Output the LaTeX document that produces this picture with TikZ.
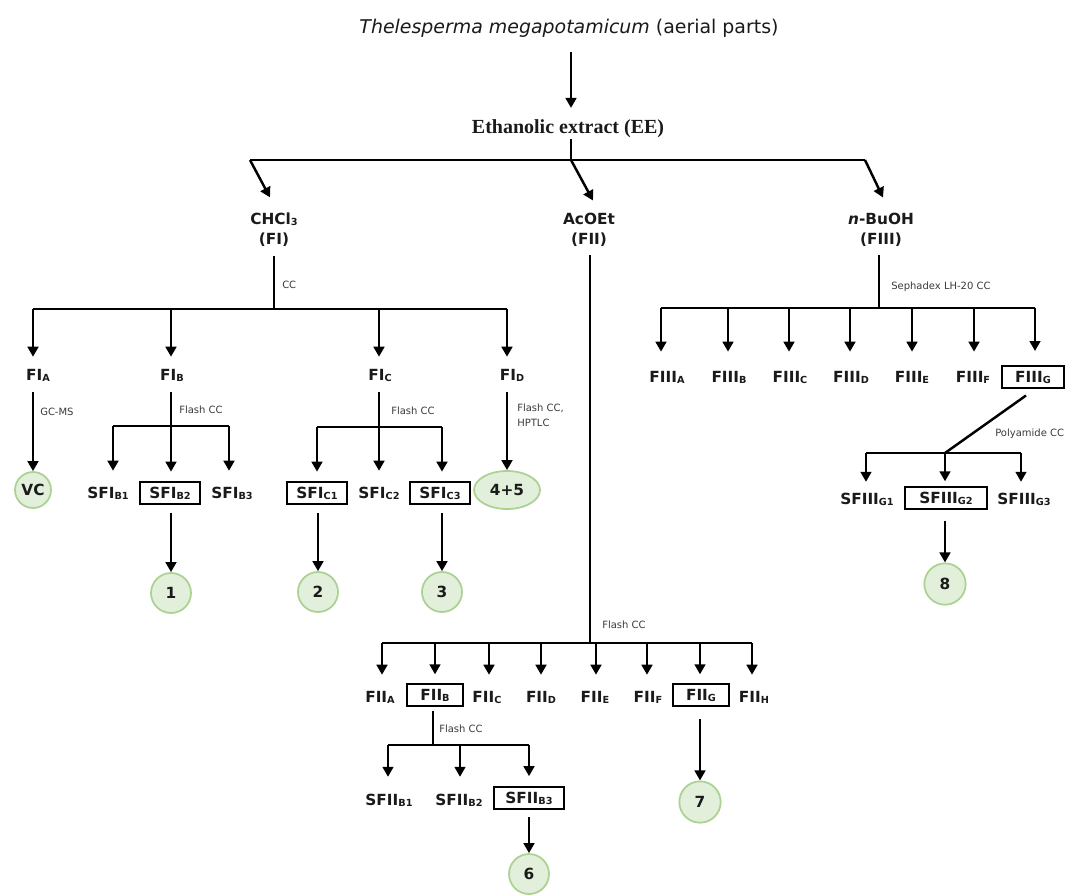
\documentclass[tikz,border=0pt]{standalone}
\usepackage{fontspec}
\setmainfont{DejaVu Sans}
\newfontfamily\serifbold{Liberation Serif}
\usetikzlibrary{arrows.meta,shapes.geometric,calc}
\definecolor{cfill}{HTML}{E2EFDA}
\definecolor{cline}{HTML}{ABD193}
\definecolor{txt}{HTML}{1A1A1A}
\definecolor{gtxt}{HTML}{3A3A3A}
\newcommand\subx[1]{\raisebox{-0.8pt}{\fontsize{7.3}{8}\selectfont #1}}
\begin{document}
\begin{tikzpicture}[x=0.75pt,y=-0.75pt,
  lbl/.style={font=\bfseries\fontsize{11.5}{15}\selectfont, text=txt, inner xsep=1pt, inner ysep=0pt, text height=8.4pt, text depth=0pt},
  lbltwo/.style={font=\bfseries\fontsize{11.5}{15}\selectfont, text=txt, inner sep=0pt, align=center},
  box/.style={lbl, draw=black, line width=1.5pt, minimum height=16.5pt, minimum width=#1},
  cir/.style={circle, draw=cline, fill=cfill, line width=1.3pt, minimum size=#1, inner sep=0pt, font=\bfseries\fontsize{11.5}{13}\selectfont, text=txt},
  note/.style={font=\fontsize{7.5}{11.25}\selectfont, text=gtxt, anchor=west, inner sep=0pt},
  ln/.style={line width=1.85pt, draw=black},
  arr/.style={ln, -{Triangle[length=7.5pt,width=8pt]}}
]
\useasboundingbox (0,0) rectangle (1068,894);

% ---------- top ----------
\node[inner sep=0pt, anchor=base, font=\fontsize{14.2}{16}\selectfont, text=txt] (title) at (569,33)
  {\textit{Thelesperma megapotamicum} (aerial parts)};
\node[inner sep=0pt, anchor=base, font=\serifbold\bfseries\fontsize{15}{17}\selectfont, text=txt] (EE) at (568,133)
  {Ethanolic extract (EE)};
\coordinate (j0) at (571,160);
\coordinate (jL) at (250,160);
\coordinate (jR) at (865,160);
\draw[arr, shorten <=11pt, shorten >=8.2pt] (title.south -| j0) -- (EE.north -| j0);
\draw[ln, shorten <=1.3pt] (EE.south -| j0) -- (j0);
\draw[ln] (jL) -- (jR);

\node[lbltwo] (FI) at (274,229.5) {CHCl\subx{3}\\(FI)};
\node[lbltwo] (FII) at (589,229.5) {AcOEt\\(FII)};
\node[lbltwo] (FIII) at (881,229.5) {\textit{n}-BuOH\\(FIII)};
\draw[arr] (jL) -- ($(FI.north)+(-4,-15)$);
\draw[arr] (j0) -- ($(FII.north)+(4,-12)$);
\draw[arr] (jR) -- ($(FIII.north)+(2,-15)$);

% ---------- FI branch ----------
\coordinate (FIh) at (274,309);
\draw[ln, shorten <=6.75pt] (FI.south) -- (FIh);
\node[note] (ccFI) at (282,285) {CC};
\coordinate (bFIA) at (33,309);
\coordinate (bFIB) at (171,309);
\coordinate (bFIC) at (379,309);
\coordinate (bFID) at (507,309);
\draw[ln] (bFIA) -- (bFID);
\node[lbl] (FIA) at (38,375) {FI\subx{A}};
\node[lbl] (FIB) at (172,375) {FI\subx{B}};
\node[lbl] (FIC) at (380,375) {FI\subx{C}};
\node[lbl] (FID) at (512,375) {FI\subx{D}};
\foreach \n in {FIA,FIB,FIC,FID}
  \draw[arr, shorten >=9.3pt] (b\n) -- (b\n |- \n.north);

% FIA
\node[cir=27pt] (VC) at (33,490) {VC};
\draw[arr, shorten <=8.5pt] (FIA.south -| VC) -- (VC);
\node[note] (gcms) at (40,412) {GC-MS};

% FIB
\coordinate (hB) at (171,426);
\coordinate (bB1) at (113,426);
\coordinate (bB3) at (229,426);
\node[lbl] (SFIB1) at (108,493) {SFI\subx{B1}};
\node[box=45pt] (SFIB2) at (170,493) {SFI\subx{B2}};
\node[lbl] (SFIB3) at (232,493) {SFI\subx{B3}};
\draw[arr, shorten <=8.5pt, shorten >=7pt] (FIB.south -| hB) -- (hB |- SFIB2.north);
\draw[ln] (bB1) -- (bB3);
\draw[arr, shorten >=12.3pt] (bB1) -- (bB1 |- SFIB1.north);
\draw[arr, shorten >=12.3pt] (bB3) -- (bB3 |- SFIB3.north);
\node[note] (fccB) at (179,410) {Flash CC};
\node[cir=30pt] (c1) at (171,593) {1};
\draw[arr, shorten <=6pt] (SFIB2.south -| c1) -- (c1);

% FIC
\coordinate (hC) at (379,427);
\coordinate (bC1) at (317,427);
\coordinate (bC3) at (442,427);
\node[box=45pt] (SFIC1) at (317,493) {SFI\subx{C1}};
\node[lbl] (SFIC2) at (379,493) {SFI\subx{C2}};
\node[box=45pt] (SFIC3) at (440,493) {SFI\subx{C3}};
\draw[arr, shorten <=8.5pt, shorten >=12.3pt] (FIC.south -| hC) -- (hC |- SFIC2.north);
\draw[ln] (bC1) -- (bC3);
\draw[arr, shorten >=7pt] (bC1) -- (bC1 |- SFIC1.north);
\draw[arr, shorten >=7pt] (bC3) -- (bC3 |- SFIC3.north);
\node[note] (fccC) at (391,411) {Flash CC};
\node[cir=30pt] (c2) at (318,592) {2};
\node[cir=30pt] (c3) at (442,592) {3};
\draw[arr, shorten <=6pt] (SFIC1.south -| c2) -- (c2);
\draw[arr, shorten <=6pt] (SFIC3.south -| c3) -- (c3);

% FID
\node[ellipse, draw=cline, fill=cfill, line width=1.3pt, minimum width=49.5pt, minimum height=28.5pt, inner sep=0pt,
  font=\bfseries\fontsize{11.5}{13}\selectfont, text=txt] (c45) at (507,490) {4+5};
\draw[arr, shorten <=8.5pt] (FID.south -| c45) -- (c45);
\node[note, align=left] (fccD) at (517,415.5) {Flash CC,\\HPTLC};

% ---------- FII branch ----------
\coordinate (hII) at (590,643);
\draw[ln, shorten <=6.75pt] (FII.south -| hII) -- (hII);
\node[note] (fccII) at (602,625) {Flash CC};
\coordinate (bFIIA) at (382,643);
\coordinate (bFIIB) at (435,643);
\coordinate (bFIIC) at (489,643);
\coordinate (bFIID) at (541,643);
\coordinate (bFIIE) at (596,643);
\coordinate (bFIIF) at (647,643);
\coordinate (bFIIG) at (700,643);
\coordinate (bFIIH) at (752,643);
\draw[ln] (bFIIA) -- (bFIIH);
\node[lbl] (FIIA) at (380,697) {FII\subx{A}};
\node[box=42pt] (FIIB) at (435,695) {FII\subx{B}};
\node[lbl] (FIIC) at (487,697) {FII\subx{C}};
\node[lbl] (FIID) at (541,697) {FII\subx{D}};
\node[lbl] (FIIE) at (595,697) {FII\subx{E}};
\node[lbl] (FIIF) at (648,697) {FII\subx{F}};
\node[box=42pt] (FIIG) at (701,695) {FII\subx{G}};
\node[lbl] (FIIH) at (754,697) {FII\subx{H}};
\foreach \n in {FIIA,FIIC,FIID,FIIE,FIIF,FIIH}
  \draw[arr, shorten >=12.3pt] (b\n) -- (b\n |- \n.north);
\foreach \n in {FIIB,FIIG}
  \draw[arr, shorten >=6.5pt] (b\n) -- (b\n |- \n.north);

% FIIB
\coordinate (hIIB) at (433,745);
\coordinate (bS1) at (388,745);
\coordinate (bS2) at (460,745);
\coordinate (bS3) at (529,745);
\draw[ln, shorten <=3pt] (FIIB.south -| hIIB) -- (hIIB);
\node[note] (fccIIB) at (439,729) {Flash CC};
\draw[ln] (bS1) -- (bS3);
\node[lbl] (SFIIB1) at (389,800) {SFII\subx{B1}};
\node[lbl] (SFIIB2) at (459,800) {SFII\subx{B2}};
\node[box=52.5pt] (SFIIB3) at (529,797.5) {SFII\subx{B3}};
\draw[arr, shorten >=13pt] (bS1) -- (bS1 |- SFIIB1.north);
\draw[arr, shorten >=13pt] (bS2) -- (bS2 |- SFIIB2.north);
\draw[arr, shorten >=7pt] (bS3) -- (bS3 |- SFIIB3.north);
\node[cir=30pt] (c6) at (529,874) {6};
\draw[arr, shorten <=5.6pt] (SFIIB3.south -| c6) -- (c6);

% FIIG
\node[cir=31pt] (c7) at (700,802) {7};
\draw[arr, shorten <=9pt] (FIIG.south -| c7) -- (c7);

% ---------- FIII branch ----------
\coordinate (hIII) at (879,308);
\draw[ln, shorten <=6.75pt] (FIII.south -| hIII) -- (hIII);
\node[note] (seph) at (891,287) {Sephadex LH-20 CC};
\coordinate (bFIIIA) at (661,308);
\coordinate (bFIIIB) at (728,308);
\coordinate (bFIIIC) at (789,308);
\coordinate (bFIIID) at (850,308);
\coordinate (bFIIIE) at (912,308);
\coordinate (bFIIIF) at (974,308);
\coordinate (bFIIIG) at (1035,308);
\draw[ln] (bFIIIA) -- (bFIIIG);
\node[lbl] (FIIIA) at (667,377) {FIII\subx{A}};
\node[lbl] (FIIIB) at (729,377) {FIII\subx{B}};
\node[lbl] (FIIIC) at (790,377) {FIII\subx{C}};
\node[lbl] (FIIID) at (851,377) {FIII\subx{D}};
\node[lbl] (FIIIE) at (912,377) {FIII\subx{E}};
\node[lbl] (FIIIF) at (973,377) {FIII\subx{F}};
\node[box=46pt] (FIIIG) at (1033,377) {FIII\subx{G}};
\foreach \n in {FIIIA,FIIIB,FIIIC,FIIID,FIIIE,FIIIF}
  \draw[arr, shorten >=14.6pt] (b\n) -- (b\n |- \n.north);
\draw[arr, shorten >=10.5pt] (bFIIIG) -- (bFIIIG |- FIIIG.north);

% FIIIG
\coordinate (hG) at (945,453);
\coordinate (bG1) at (866,453);
\coordinate (bG3) at (1021,453);
\draw[ln] ($(FIIIG.south)+(-7,6.5)$) -- (hG);
\node[note] (poly) at (995,434) {Polyamide CC};
\draw[ln] (bG1) -- (bG3);
\node[lbl] (SFIIIG1) at (867,499) {SFIII\subx{G1}};
\node[box=61pt] (SFIIIG2) at (946,498) {SFIII\subx{G2}};
\node[lbl] (SFIIIG3) at (1024,499) {SFIII\subx{G3}};
\draw[arr, shorten >=8.5pt] (bG1) -- (bG1 |- SFIIIG1.north);
\draw[arr, shorten >=3.5pt] (hG) -- (hG |- SFIIIG2.north);
\draw[arr, shorten >=8.5pt] (bG3) -- (bG3 |- SFIIIG3.north);
\node[cir=31pt] (c8) at (945,584) {8};
\draw[arr, shorten <=8pt] (SFIIIG2.south -| c8) -- (c8);
\end{tikzpicture}
\end{document}
